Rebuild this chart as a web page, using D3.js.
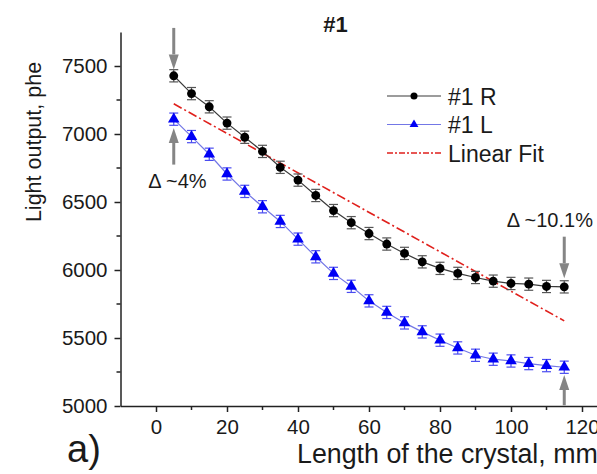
<!DOCTYPE html>
<html>
<head>
<meta charset="utf-8">
<script src="https://cdn.jsdelivr.net/npm/d3@7"></script>
<style>
  body { margin: 0; background: #fff; }
  text { font-family: "Liberation Sans", Arial, sans-serif; fill: #1a1a1a; }
</style>
</head>
<body>
<div id="graph"></div>
<script>
// positions along the crystal, mm
let lengths = [5, 10, 15, 20, 25, 30, 35, 40, 45, 50, 55, 60, 65, 70, 75, 80, 85, 90, 95, 100, 105, 110, 115];
let seriesR = [7428, 7297, 7200, 7080, 6976, 6872, 6755, 6661, 6548, 6437, 6348, 6268, 6191, 6122, 6060, 6012, 5975, 5945, 5918, 5901, 5896, 5879, 5876];
let seriesL = [7109, 6981, 6851, 6706, 6578, 6465, 6357, 6227, 6097, 5975, 5880, 5773, 5688, 5611, 5545, 5484, 5427, 5373, 5344, 5331, 5312, 5297, 5285];
let errR = [45, 45, 45, 45, 45, 45, 45, 45, 45, 45, 45, 45, 45, 45, 45, 45, 45, 45, 45, 45, 45, 45, 45];
let errL = [45, 45, 45, 45, 45, 45, 45, 45, 45, 45, 45, 45, 45, 45, 45, 45, 45, 45, 45, 45, 45, 45, 45];
let fitX = [5, 115];
let fitY = [7222, 5626];
let xTicks = [0, 20, 40, 60, 80, 100, 120];
let xMinor = [10, 30, 50, 70, 90, 110];
let yTicks = [5000, 5500, 6000, 6500, 7000, 7500];
let yMinor = [5250, 5750, 6250, 6750, 7250];
let legendNames = ["#1 R", "#1 L", "Linear Fit"];
// arrows: x, tail value, tip value
let arrows = [[5, 7780, 7475], [5, 6775, 7045], [115, 6245, 5940], [115, 5005, 5228]];
// label, x, y (data units, left edge of text)
let deltas = [["\u0394 ~4%", -2.2, 6602], ["\u0394 ~10.1%", 98.8, 6316]];

let width = 597, height = 474;
let margin = {left: 120.5, top: 32, bottom: 68};
let plotH = height - margin.top - margin.bottom;

let svg = d3.select("#graph")
    .append("svg")
    .attr("width", width)
    .attr("height", height);

let x = d3.scaleLinear()
    .domain([-10, 125])
    .range([margin.left, margin.left + 135 * 3.55]);
let y = d3.scaleLinear()
    .domain([5000, 7750])
    .range([margin.top + plotH, margin.top]);

// axes
let xAxis = svg.append("g")
    .attr("transform", `translate(0,${y(5000)})`)
    .call(d3.axisBottom(x).tickValues(xTicks).tickFormat(d3.format("d")).tickSize(6).tickPadding(7).tickSizeOuter(0));
xAxis.append("g").selectAll("line").data(xMinor).enter()
    .append("line")
    .attr("x1", d => x(d)).attr("x2", d => x(d))
    .attr("y1", 0).attr("y2", 4)
    .attr("stroke", "#222").attr("stroke-width", 1.5);

let yAxis = svg.append("g")
    .attr("transform", `translate(${x(-10)},0)`)
    .call(d3.axisLeft(y).tickValues(yTicks).tickFormat(d3.format("d")).tickSize(6).tickPadding(7).tickSizeOuter(0));
yAxis.append("g").selectAll("line").data(yMinor).enter()
    .append("line")
    .attr("y1", d => y(d)).attr("y2", d => y(d))
    .attr("x1", 0).attr("x2", -4)
    .attr("stroke", "#222").attr("stroke-width", 1.5);

svg.selectAll(".domain, .tick line").attr("stroke", "#222").attr("stroke-width", 1.5);
svg.selectAll(".tick text").style("font-size", "20.5px").attr("fill", "#1a1a1a");

// linear fit
svg.append("path")
    .datum(fitX.map((d, i) => [d, fitY[i]]))
    .attr("fill", "none")
    .attr("stroke", "#e0201c")
    .attr("stroke-width", 1.6)
    .attr("stroke-dasharray", "9,3,2,3")
    .attr("d", d3.line().x(d => x(d[0])).y(d => y(d[1])));

function drawSeries(vals, errs, lineColor, barColor, markColor, shape) {
    let pts = lengths.map((d, i) => ({x: d, y: vals[i], e: errs[i]}));
    svg.append("path")
        .datum(pts)
        .attr("fill", "none")
        .attr("stroke", lineColor)
        .attr("stroke-width", 1.2)
        .attr("d", d3.line().x(d => x(d.x)).y(d => y(d.y)));
    let g = svg.append("g").attr("stroke", barColor).attr("stroke-width", 1.2);
    g.selectAll(".bar").data(pts).enter().append("line")
        .attr("x1", d => x(d.x)).attr("x2", d => x(d.x))
        .attr("y1", d => y(d.y - d.e)).attr("y2", d => y(d.y + d.e));
    g.selectAll(".capT").data(pts).enter().append("line")
        .attr("x1", d => x(d.x) - 4.5).attr("x2", d => x(d.x) + 4.5)
        .attr("y1", d => y(d.y + d.e)).attr("y2", d => y(d.y + d.e));
    g.selectAll(".capB").data(pts).enter().append("line")
        .attr("x1", d => x(d.x) - 4.5).attr("x2", d => x(d.x) + 4.5)
        .attr("y1", d => y(d.y - d.e)).attr("y2", d => y(d.y - d.e));
    svg.append("g").selectAll("path").data(pts).enter().append("path")
        .attr("transform", d => `translate(${x(d.x)},${y(d.y)})`)
        .attr("d", d3.symbol().type(shape).size(shape === d3.symbolCircle ? 62 : 58))
        .attr("fill", markColor);
}
drawSeries(seriesR, errR, "#3a3a3a", "#555", "#000", d3.symbolCircle);
drawSeries(seriesL, errL, "#7377e6", "#4a4cf0", "#0000f5", d3.symbolTriangle);

// arrows
arrows.forEach(function(a) {
    let ax = x(a[0]), y0 = y(a[1]), y1 = y(a[2]);
    let dir = y1 > y0 ? 1 : -1;
    let headLen = 15;
    svg.append("line")
        .attr("x1", ax).attr("x2", ax)
        .attr("y1", y0).attr("y2", y1 - dir * headLen)
        .attr("stroke", "#858585").attr("stroke-width", 3);
    svg.append("path")
        .attr("d", `M${ax - 5},${y1 - dir * headLen} L${ax + 5},${y1 - dir * headLen} L${ax},${y1} Z`)
        .attr("fill", "#858585");
});

deltas.forEach(function(t) {
    svg.append("text")
        .attr("x", x(t[1]))
        .attr("y", y(t[2]))
        .style("font-size", "20px")
        .text(t[0]);
});

// legend
let legend = svg.append("g").attr("transform", "translate(387,96)");
legendNames.forEach(function(name, i) {
    let row = legend.append("g").attr("transform", `translate(0,${i * 28.5})`);
    let ln = row.append("line")
        .attr("x1", 0).attr("x2", 54).attr("y1", 0).attr("y2", 0);
    if (i === 0) {
        ln.attr("stroke", "#3a3a3a").attr("stroke-width", 1.2);
        row.append("circle").attr("cx", 27).attr("r", 3.5).attr("fill", "#000");
    } else if (i === 1) {
        ln.attr("stroke", "#7377e6").attr("stroke-width", 1.2);
        row.append("path").attr("transform", "translate(27,0)")
            .attr("d", d3.symbol().type(d3.symbolTriangle).size(34)).attr("fill", "#0000f5");
    } else {
        ln.attr("stroke", "#e0201c").attr("stroke-width", 1.4).attr("stroke-dasharray", "6,2,2,2");
    }
    row.append("text")
        .attr("x", 61)
        .attr("y", 8.5)
        .style("font-size", "23px")
        .text(name);
});

// titles
svg.append("text")
    .attr("x", 335.5)
    .attr("y", 32)
    .style("text-anchor", "middle")
    .style("font-size", "22px")
    .style("font-weight", "bold")
    .text("#1");

svg.append("text")
    .attr("transform", "translate(41,142) rotate(-90)")
    .style("text-anchor", "middle")
    .style("font-size", "21.5px")
    .text("Light output, phe");

svg.append("text")
    .attr("x", 297)
    .attr("y", 463)
    .style("font-size", "26.8px")
    .text("Length of the crystal, mm");

svg.append("text")
    .attr("x", 67)
    .attr("y", 462)
    .style("font-size", "38px")
    .text("a)");
</script>
</body>
</html>
